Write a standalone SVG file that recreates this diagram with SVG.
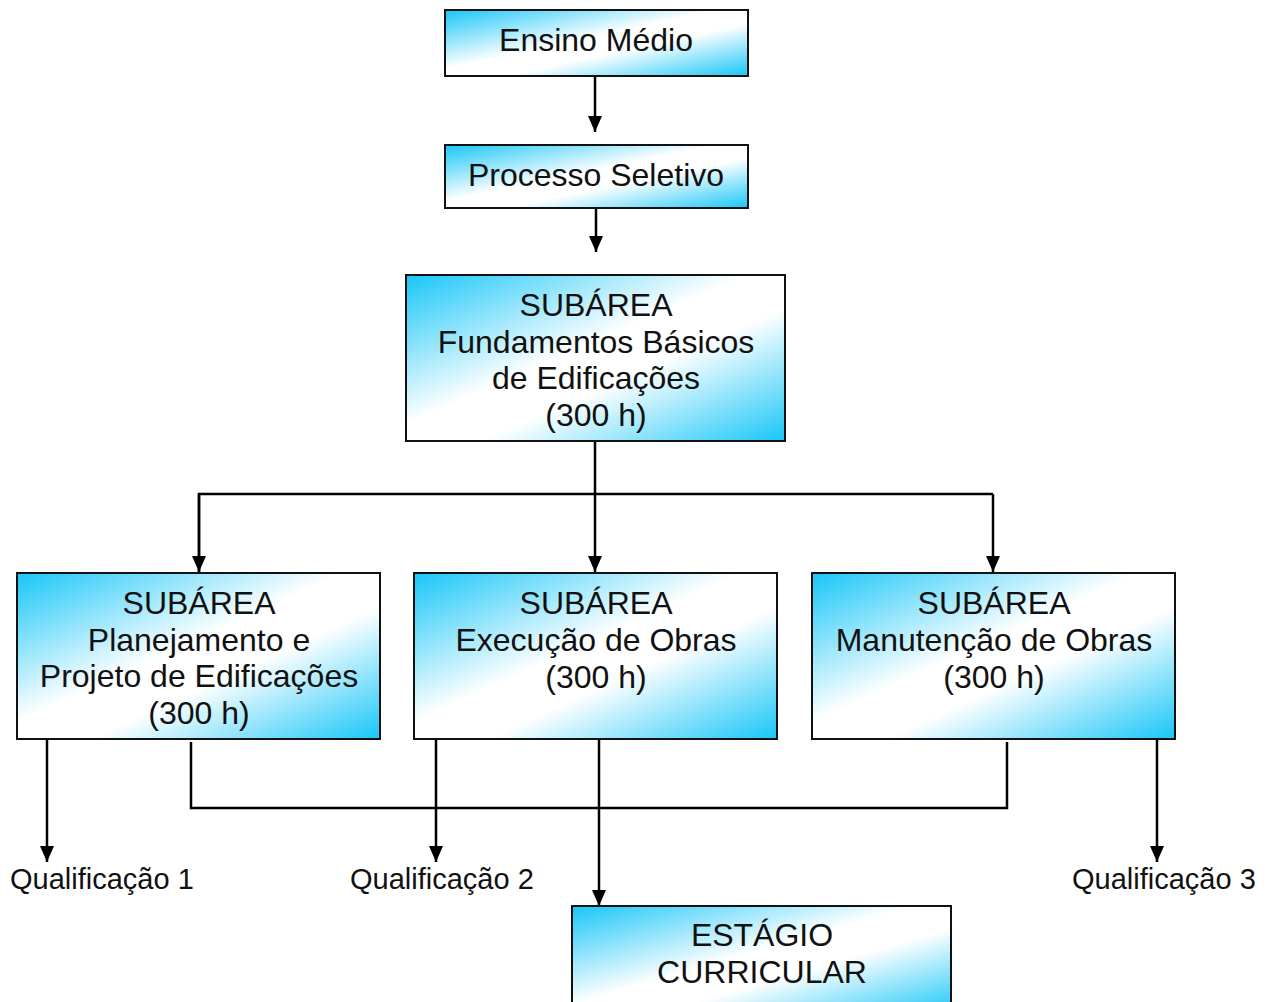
<svg xmlns="http://www.w3.org/2000/svg" width="1268" height="1002" viewBox="0 0 1268 1002">
<style>
.box{fill:url(#g);stroke:#111;stroke-width:2}
.t{font-family:"Liberation Sans",Arial,sans-serif;font-size:32px;fill:#111;text-anchor:middle}
.q{font-family:"Liberation Sans",Arial,sans-serif;font-size:29px;fill:#111}
.c{fill:none;stroke:#000;stroke-width:2.5}
</style>
<defs>
<linearGradient id="g" x1="0" y1="0" x2="1" y2="1">
<stop offset="0" stop-color="#18c6f8"/>
<stop offset="0.45" stop-color="#ffffff"/>
<stop offset="0.6" stop-color="#ffffff"/>
<stop offset="1" stop-color="#18c6f8"/>
</linearGradient>
<marker id="a" viewBox="0 0 16 14" refX="16" refY="7" markerWidth="16" markerHeight="14" markerUnits="userSpaceOnUse" orient="auto">
<path d="M0,0 L16,7 L0,14 Z" fill="#000"/>
</marker>
</defs>
<rect width="1268" height="1002" fill="#fff"/>
<g id="connectors">
<line class="c" x1="595" y1="76" x2="595" y2="132" marker-end="url(#a)"/>
<line class="c" x1="596" y1="208" x2="596" y2="252" marker-end="url(#a)"/>
<line class="c" x1="595" y1="441" x2="595" y2="572" marker-end="url(#a)"/>
<polyline class="c" points="199,572 199,494 993,494"/>
<line class="c" x1="199" y1="494" x2="199" y2="572" marker-end="url(#a)"/>
<line class="c" x1="993" y1="494" x2="993" y2="572" marker-end="url(#a)"/>
<line class="c" x1="47" y1="739" x2="47" y2="862" marker-end="url(#a)"/>
<line class="c" x1="436" y1="739" x2="436" y2="862" marker-end="url(#a)"/>
<line class="c" x1="599" y1="739" x2="599" y2="906" marker-end="url(#a)"/>
<line class="c" x1="1157" y1="739" x2="1157" y2="862" marker-end="url(#a)"/>
<polyline class="c" points="191,742 191,808 1007,808 1007,742"/>
</g>
<g id="ensino">
<rect class="box" x="445" y="10" width="303" height="66"/>
<text class="t" x="596" y="51">Ensino Médio</text>
</g>
<g id="processo">
<rect class="box" x="445" y="145" width="303" height="63"/>
<text class="t" x="596" y="186">Processo Seletivo</text>
</g>
<g id="fundamentos">
<rect class="box" x="406" y="275" width="379" height="166"/>
<text class="t" x="596" y="316">SUBÁREA</text>
<text class="t" x="596" y="353">Fundamentos Básicos</text>
<text class="t" x="596" y="389">de Edificações</text>
<text class="t" x="596" y="426">(300 h)</text>
</g>
<g id="planejamento">
<rect class="box" x="17" y="573" width="363" height="166"/>
<text class="t" x="199" y="614">SUBÁREA</text>
<text class="t" x="199" y="651">Planejamento e</text>
<text class="t" x="199" y="687">Projeto de Edificações</text>
<text class="t" x="199" y="724">(300 h)</text>
</g>
<g id="execucao">
<rect class="box" x="414" y="573" width="363" height="166"/>
<text class="t" x="596" y="614">SUBÁREA</text>
<text class="t" x="596" y="651">Execução de Obras</text>
<text class="t" x="596" y="688">(300 h)</text>
</g>
<g id="manutencao">
<rect class="box" x="812" y="573" width="363" height="166"/>
<text class="t" x="994" y="614">SUBÁREA</text>
<text class="t" x="994" y="651">Manutenção de Obras</text>
<text class="t" x="994" y="688">(300 h)</text>
</g>
<g id="estagio">
<rect class="box" x="572" y="906" width="379" height="110"/>
<text class="t" x="762" y="946">ESTÁGIO</text>
<text class="t" x="762" y="983">CURRICULAR</text>
</g>
<g id="qualificacoes">
<text class="q" x="10" y="889">Qualificação 1</text>
<text class="q" x="350" y="889">Qualificação 2</text>
<text class="q" x="1072" y="889">Qualificação 3</text>
</g>
</svg>
